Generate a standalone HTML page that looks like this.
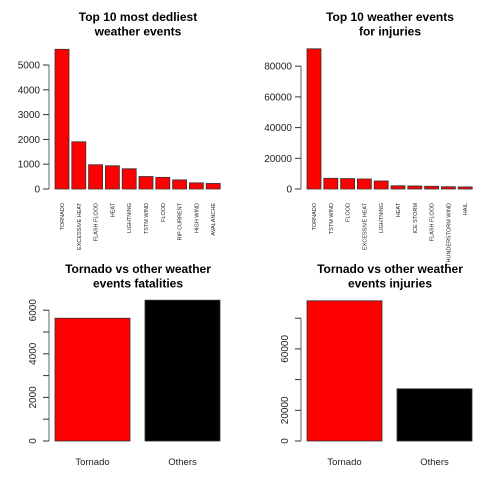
<!DOCTYPE html>
<html><head><meta charset="utf-8">
<style>
body{margin:0;background:#fff;}
svg{display:block;font-family:"Liberation Sans",sans-serif;}
</style></head>
<body>
<svg id="c" width="504" height="504" viewBox="0 0 504 504"></svg>
<script>
const fatalCats = ["TORNADO","EXCESSIVE HEAT","FLASH FLOOD","HEAT","LIGHTNING","TSTM WIND","FLOOD","RIP CURRENT","HIGH WIND","AVALANCHE"];
const fatalVals = [5633,1903,978,937,816,504,470,368,248,224];
const fatalTicks = [0,1000,2000,3000,4000,5000];
const injCats = ["TORNADO","TSTM WIND","FLOOD","EXCESSIVE HEAT","LIGHTNING","HEAT","ICE STORM","FLASH FLOOD","THUNDERSTORM WIND","HAIL"];
const injVals = [91346,6957,6789,6525,5230,2100,1975,1777,1488,1361];
const injTicks = [0,20000,40000,60000,80000];
const cmpCats = ["Tornado","Others"];
const cmpFatal = [5633,6460];
const cmpFatalTicks = [0,1000,2000,3000,4000,5000,6000];
const cmpFatalLabels = [0,2000,4000,6000];
const cmpInj = [91346,34000];
const cmpInjTicks = [0,20000,40000,60000,80000];
const cmpInjLabels = [0,20000,60000];

const svg = document.getElementById('c');
const NS = "http://www.w3.org/2000/svg";
function mk(tag, attrs, parent){
  const e = document.createElementNS(NS, tag);
  for (const k in attrs) e.setAttribute(k, attrs[k]);
  (parent||svg).appendChild(e);
  return e;
}
function panel(name, ox, oy, title, cats, vals, ticks, labels, pxPerUnit, bw, step, colors, horizLabels, catSmall){
  const g = mk('g', {transform:`translate(${ox},${oy})`});
  
  
  const y0 = 189;
  const yS = v => y0 - v * pxPerUnit;
  const t = mk('text', {x:138, y:21, 'text-anchor':'middle', 'font-size':12, 'font-weight':'bold', fill:'#000'}, g);
  
  
  title.forEach((line, i) => { const ts = mk('tspan', {x:138, dy: i ? 14.5 : 0}, t); ts.textContent = line; });
  const ax = mk('line', {x1:49, x2:49, y1:yS(ticks[0]), y2:yS(ticks[ticks.length-1]), stroke:'#999', 'stroke-width':1.5}, g);
  
  
  ticks.forEach(v => {
    const tk = mk('line', {x1:43, x2:49, y1:yS(v), y2:yS(v), stroke:'#333', 'stroke-width':1}, g);
    
    
  });
  labels.forEach(v => {
    let tl;
    if (horizLabels) {
      tl = mk('text', {x:40, y:yS(v)+3.5, 'text-anchor':'end', 'font-size':10, fill:'#222'}, g);
    } else {
      tl = mk('text', {x:0, y:0, transform:`translate(36,${yS(v)}) rotate(-90)`, 'text-anchor':'middle', 'font-size':10, fill:'#222'}, g);
    }
    
    
    tl.textContent = v;
  });
  vals.forEach((v, i) => {
    const x = 55 + i * step;
    const b = mk('rect', {x:x, y:yS(v), width:bw, height:y0 - yS(v), fill:colors[i % colors.length], stroke:'#333', 'stroke-width':0.8}, g);
    
    
    let cl;
    if (catSmall) {
      cl = mk('text', {x:0, y:0, transform:`translate(${x + bw/2 + 2},203) rotate(-90)`, 'text-anchor':'end', 'font-size':5.5, fill:'#222'}, g);
    } else {
      cl = mk('text', {x:x + bw/2, y:213, 'text-anchor':'middle', 'font-size':9.5, fill:'#222'}, g);
    }
    
    
    cl.textContent = cats[i];
  });
}
panel('fatalities-top10-panel', 0, 0, ['Top 10 most dedliest','weather events'], fatalCats, fatalVals, fatalTicks, fatalTicks, 24.8/1000, 14, 16.8, ['#ff0000'], true, true);
panel('injuries-top10-panel', 252, 0, ['Top 10 weather events','for injuries'], injCats, injVals, injTicks, injTicks, 30.7/20000, 14, 16.8, ['#ff0000'], true, true);
panel('tornado-vs-others-fatalities-panel', 0, 252, ['Tornado vs other weather','events fatalities'], cmpCats, cmpFatal, cmpFatalTicks, cmpFatalLabels, 21.8/1000, 75, 90, ['#ff0000','#000000'], false, false);
panel('tornado-vs-others-injuries-panel', 252, 252, ['Tornado vs other weather','events injuries'], cmpCats, cmpInj, cmpInjTicks, cmpInjLabels, 30.7/20000, 75, 90, ['#ff0000','#000000'], false, false);
</script>
</body></html>
